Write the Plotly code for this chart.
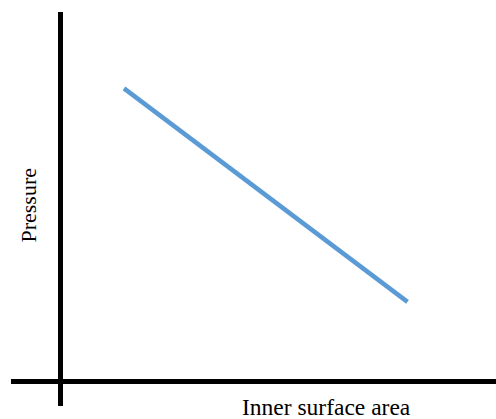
import plotly.graph_objects as go

# Data (arbitrary units)
inner_surface_area = [2, 11]
pressure = [11, 3]

x_label = "Inner surface area"
y_label = "Pressure"

fig = go.Figure()
fig.add_trace(go.Scatter(
    x=inner_surface_area, y=pressure, mode="lines",
    line=dict(color="#5B9BD5", width=4.5),
    showlegend=False, hoverinfo="skip",
))

fig.update_layout(
    width=496, height=419,
    margin=dict(l=11, r=0, t=12, b=13),
    paper_bgcolor="white", plot_bgcolor="white",
    font=dict(family="Liberation Serif, Times New Roman, serif", color="#000000"),
    xaxis=dict(range=[-1.587, 13.81], showgrid=False, showticklabels=False,
               ticks="", zeroline=True, zerolinecolor="#000000", zerolinewidth=4.5,
               showline=False, fixedrange=True),
    yaxis=dict(range=[-0.9, 13.86], showgrid=False, showticklabels=False,
               ticks="", zeroline=True, zerolinecolor="#000000", zerolinewidth=4.5,
               showline=False, fixedrange=True),
    annotations=[
        dict(text=y_label, xref="paper", yref="paper", x=0.036, y=0.51,
             textangle=-90, showarrow=False, xanchor="center", yanchor="middle",
             font=dict(size=22)),
        dict(text=x_label, xref="paper", yref="paper", x=0.651, y=-0.002,
             showarrow=False, xanchor="center", yanchor="middle",
             font=dict(size=23.5)),
    ],
)

fig.write_html(
    "out.html",
    config={"displayModeBar": False},
    post_script="document.body.style.margin='0';document.body.style.overflow='hidden';",
)
